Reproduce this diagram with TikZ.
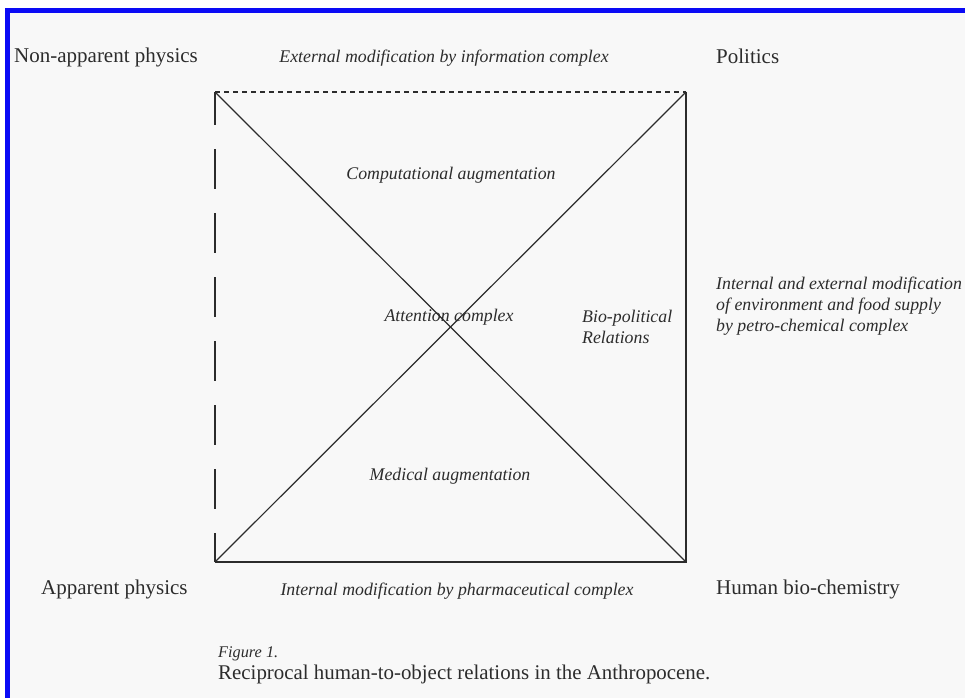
\documentclass[tikz,border=0pt]{standalone}
\usepackage{fontspec}
\setmainfont{Liberation Serif}
\definecolor{bgpage}{HTML}{F8F8F8}
\definecolor{frameblue}{HTML}{0A0AF5}
\definecolor{ink}{HTML}{2C2C2C}
\begin{document}
\begin{tikzpicture}[x=1pt,y=-1pt,
  every node/.style={inner sep=0pt, text=ink},
  lab/.style={font=\fontsize{21}{24}\selectfont},
  itl/.style={font=\fontsize{17.8}{21}\selectfont\itshape},
  edge/.style={draw=ink, line width=1.2pt},
]
\useasboundingbox (0,0) rectangle (965,698);
\fill[white] (0,0) rectangle (965,698);
\fill[bgpage] (10,13) rectangle (965,698);
\fill[frameblue] (5,8) rectangle (965,13);
\fill[frameblue] (5,8) rectangle (10,698);

\coordinate (tl) at (215,92);
\coordinate (tr) at (686,92);
\coordinate (bl) at (215,562);
\coordinate (br) at (686,562);

\draw[edge, dash pattern=on 5pt off 4pt] (tl) -- (tr);
\draw[edge] (tr) -- (br) -- (bl);
\draw[edge, dash pattern=on 40pt off 24pt, dash phase=7pt] (tl) -- (bl);
\draw[edge] (tl) -- (br);
\draw[edge] (bl) -- (tr);

\node[lab, anchor=base west] (np) at (14,63) {Non-apparent physics};
\node[itl, anchor=base] (ext) at (444,63) {External modification by information complex};
\node[lab, anchor=base west] (pol) at (716,64) {Politics};
\node[itl, anchor=base] (comp) at (451,179) {Computational augmentation};
\node[itl, anchor=base] (att) at (449,321) {Attention complex};
\node[itl, anchor=north west, align=left, font=\fontsize{17.8}{21}\selectfont\itshape] (bio) at (582,310) {Bio-political\\Relations};
\node[itl, anchor=north west, align=left, font=\fontsize{17.8}{21}\selectfont\itshape] (env) at (716,277) {Internal and external modification\\of environment and food supply\\by petro-chemical complex};
\node[itl, anchor=base] (med) at (450,480) {Medical augmentation};
\node[lab, anchor=base west] (ap) at (41,594) {Apparent physics};
\node[itl, anchor=base] (pharm) at (457,595) {Internal modification by pharmaceutical complex};
\node[lab, anchor=base west] (hb) at (716,594) {Human bio-chemistry};
\node[anchor=base west, font=\fontsize{16.3}{19}\selectfont\itshape] (fig) at (218,657) {Figure 1.};
\node[anchor=base west, font=\fontsize{20.9}{24}\selectfont] (cap) at (218,679) {Reciprocal human-to-object relations in the Anthropocene.};
\end{tikzpicture}
\end{document}
